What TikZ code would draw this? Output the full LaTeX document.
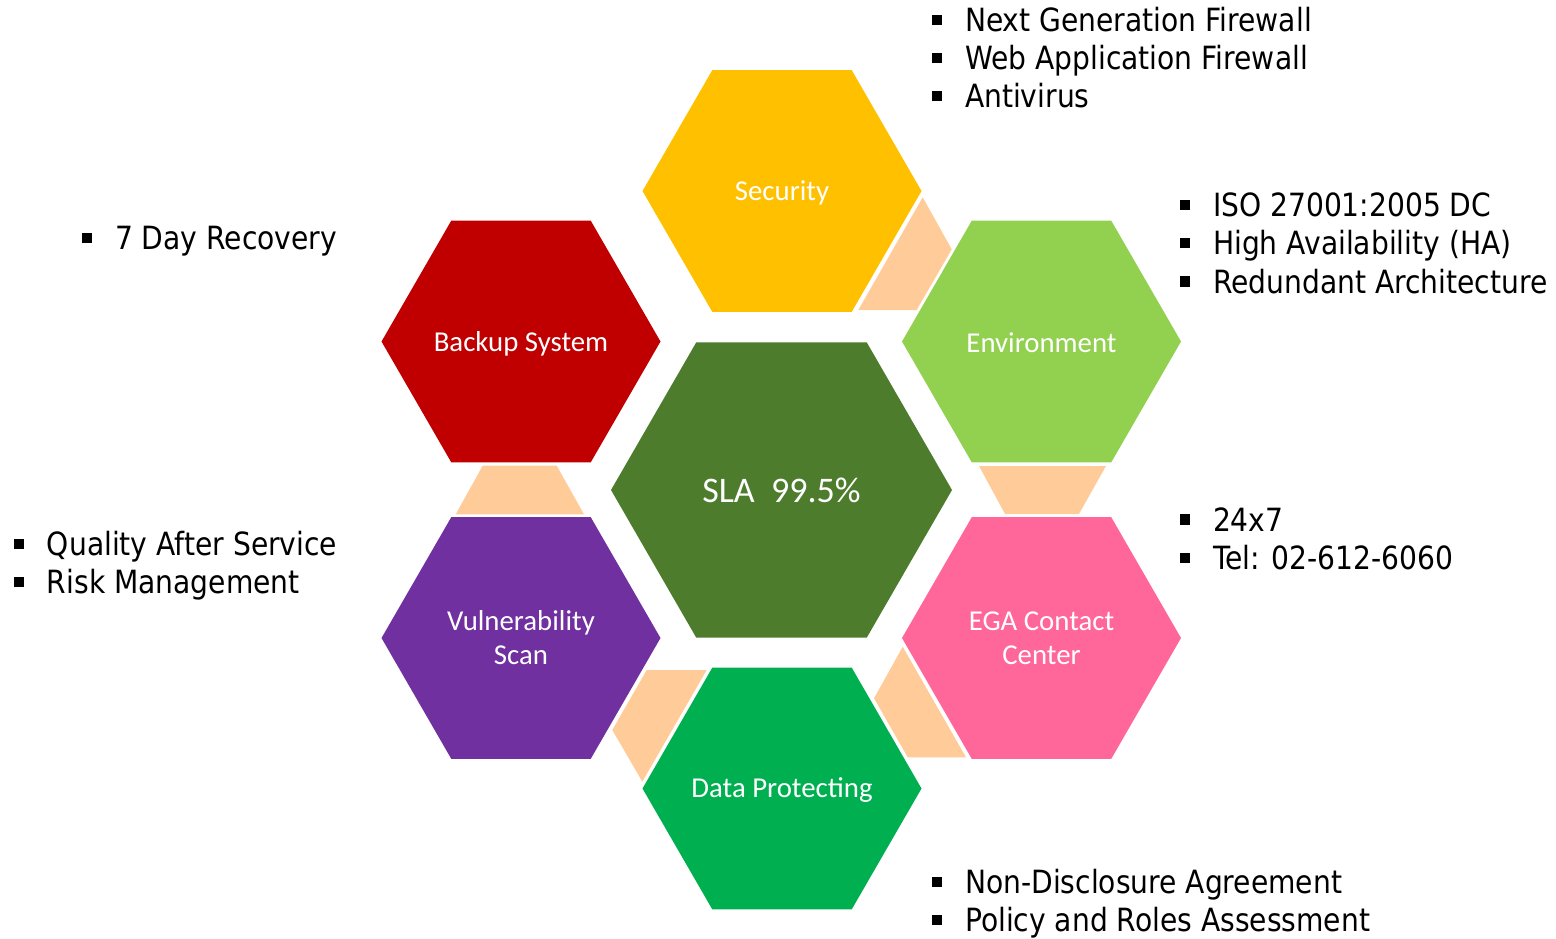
\documentclass[tikz,border=0pt]{standalone}
\usepackage{fontspec}
\setmainfont{Carlito}
\newfontfamily\tah[FakeStretch=0.88]{DejaVu Sans}
\definecolor{cSec}{HTML}{FFC000}
\definecolor{cBak}{HTML}{C00000}
\definecolor{cEnv}{HTML}{92D050}
\definecolor{cVul}{HTML}{7030A0}
\definecolor{cEga}{HTML}{FF6699}
\definecolor{cDat}{HTML}{00B050}
\definecolor{cSla}{HTML}{4C7C2C}
\definecolor{cCon}{HTML}{FFCC99}
\newcommand{\bul}{\rule[3.2pt]{5pt}{5.2pt}\hspace{11.3pt}}
\newcommand{\hexpath}[3]{\fill[#1] (#2) +(0:#3) -- +(60:#3) -- +(120:#3) -- +(180:#3) -- +(240:#3) -- +(300:#3) -- cycle;}
\tikzset{
  hexlabel/.style={text=white, font=\fontsize{14.4}{17}\selectfont, align=center, inner sep=0pt},
  slalabel/.style={text=white, font=\fontsize{18}{22}\selectfont, inner sep=0pt},
  li/.style={anchor=base west, inner sep=0pt, font=\tah\fontsize{16}{19}\selectfont, text=black},
  conn/.style={fill=cCon}
}
\begin{document}
\begin{tikzpicture}[x=0.5pt,y=-0.5pt]
\useasboundingbox (0,0) rectangle (1556,938);
% centres
\coordinate (sec) at (782,191);
\coordinate (bak) at (521,341.5);
\coordinate (env) at (1041.5,341.5);
\coordinate (vul) at (521,638);
\coordinate (ega) at (1041.5,638);
\coordinate (dat) at (782,788.5);
\coordinate (sla) at (781.5,490);
% hexagons
\hexpath{cSec}{sec}{139.5}
\hexpath{cBak}{bak}{139.5}
\hexpath{cEnv}{env}{139.5}
\hexpath{cVul}{vul}{139.5}
\hexpath{cEga}{ega}{139.5}
\hexpath{cDat}{dat}{139.5}
\hexpath{cSla}{sla}{170.5}
% connectors
\fill[conn] (922.7,197.3) -- (951.7,249.3) -- (916.7,310) -- (858.3,310) -- cycle;
\fill[conn] (482.7,465.7) -- (556.7,465.7) -- (584,514.3) -- (455.7,514.3) -- cycle;
\fill[conn] (979,466) -- (1106,466) -- (1079,514) -- (1005,514) -- cycle;
\fill[conn] (646.7,670) -- (706.7,670) -- (642.3,781.7) -- (612.3,730) -- cycle;
\fill[conn] (902.7,646.7) -- (966,757.3) -- (907.7,757.3) -- (874,698.3) -- cycle;
% hexagon labels
\node[hexlabel] (tsec) at ([yshift=-1pt]sec) {Security};
\node[hexlabel] (tbak) at ([yshift=-1pt]bak) {Backup System};
\node[hexlabel] (tenv) at ([yshift=-0.5pt]env) {Environment};
\node[hexlabel] (tvul) at (vul) {Vulnerability\\Scan};
\node[hexlabel] (tega) at (ega) {EGA Contact\\Center};
\node[hexlabel] (tdat) at ([yshift=-1pt]dat) {Data Protecting};
\node[slalabel] (tsla) at (sla) {SLA\ \ 99.5\%};
% lists
\node[li] (s1) at (932,31.7) {\bul Next Generation Firewall};
\node[li] (s2) at (932,69.7) {\bul Web Application Firewall};
\node[li] (s3) at (932,107.7) {\bul Antivirus};
\node[li] (e1) at (1180,216.5) {\bul ISO 27001:2005 DC};
\node[li] (e2) at (1180,254.8) {\bul High Availability (HA)};
\node[li] (e3) at (1180,293) {\bul Redundant Architecture};
\node[li] (g1) at (1180,531) {\bul 24x7};
\node[li] (g2) at (1180,569.5) {\bul Tel: 02-612-6060};
\node[li] (d1) at (932,893.5) {\bul Non-Disclosure Agreement};
\node[li] (d2) at (932,931.5) {\bul Policy and Roles Assessment};
\node[li] (b1) at (82,249.5) {\bul 7 Day Recovery};
\node[li] (v1) at (14,555.5) {\bul Quality After Service};
\node[li] (v2) at (14,593.5) {\bul Risk Management};
\end{tikzpicture}
\end{document}
